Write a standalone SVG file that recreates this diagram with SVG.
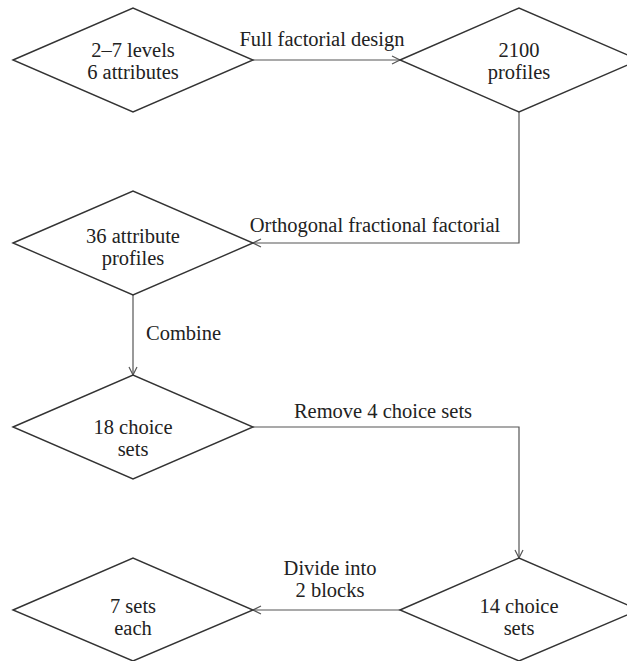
<svg xmlns="http://www.w3.org/2000/svg" width="627" height="661" viewBox="0 0 627 661">
<style>
.d{fill:#fff;stroke:#333;stroke-width:1.4}
.c{fill:none;stroke:#555;stroke-width:1.2}
text{font-family:"Liberation Serif","Times New Roman",serif;font-size:20.5px;fill:#222}
.m{text-anchor:middle}
</style>
<defs>
<marker id="a" markerWidth="12" markerHeight="12" refX="10" refY="5" orient="auto" markerUnits="userSpaceOnUse">
<path d="M2,1 L10,5 L2,9" fill="none" stroke="#555" stroke-width="1.2"/>
</marker>
</defs>
<g id="connectors">
<path class="c" d="M253,60 H400" marker-end="url(#a)"/>
<path class="c" d="M519,112 V243 H253" marker-end="url(#a)"/>
<path class="c" d="M133,295 V375" marker-end="url(#a)"/>
<path class="c" d="M253,427 H519 V558" marker-end="url(#a)"/>
<path class="c" d="M400,610 H253" marker-end="url(#a)"/>
<text class="m" x="322" y="46">Full factorial design</text>
<text class="m" x="375" y="232">Orthogonal fractional factorial</text>
<text x="146" y="340">Combine</text>
<text class="m" x="383" y="418">Remove 4 choice sets</text>
<text class="m" x="330" y="575">Divide into</text>
<text class="m" x="330" y="597">2 blocks</text>
</g>
<g id="n1"><polygon class="d" points="13,60 133,8 253,60 133,112"/><text class="m" x="133" y="57">2–7 levels</text><text class="m" x="133" y="79">6 attributes</text></g>
<g id="n2"><polygon class="d" points="400,60 519,8 639,60 519,112"/><text class="m" x="519" y="57">2100</text><text class="m" x="519" y="79">profiles</text></g>
<g id="n3"><polygon class="d" points="13,243 133,191 253,243 133,295"/><text class="m" x="133" y="243">36 attribute</text><text class="m" x="133" y="265">profiles</text></g>
<g id="n4"><polygon class="d" points="13,427 133,375 253,427 133,479"/><text class="m" x="133" y="434">18 choice</text><text class="m" x="133" y="456">sets</text></g>
<g id="n5"><polygon class="d" points="400,610 519,558 639,610 519,661"/><text class="m" x="519" y="613">14 choice</text><text class="m" x="519" y="635">sets</text></g>
<g id="n6"><polygon class="d" points="13,610 133,558 253,610 133,661"/><text class="m" x="133" y="613">7 sets</text><text class="m" x="133" y="635">each</text></g>
</svg>
